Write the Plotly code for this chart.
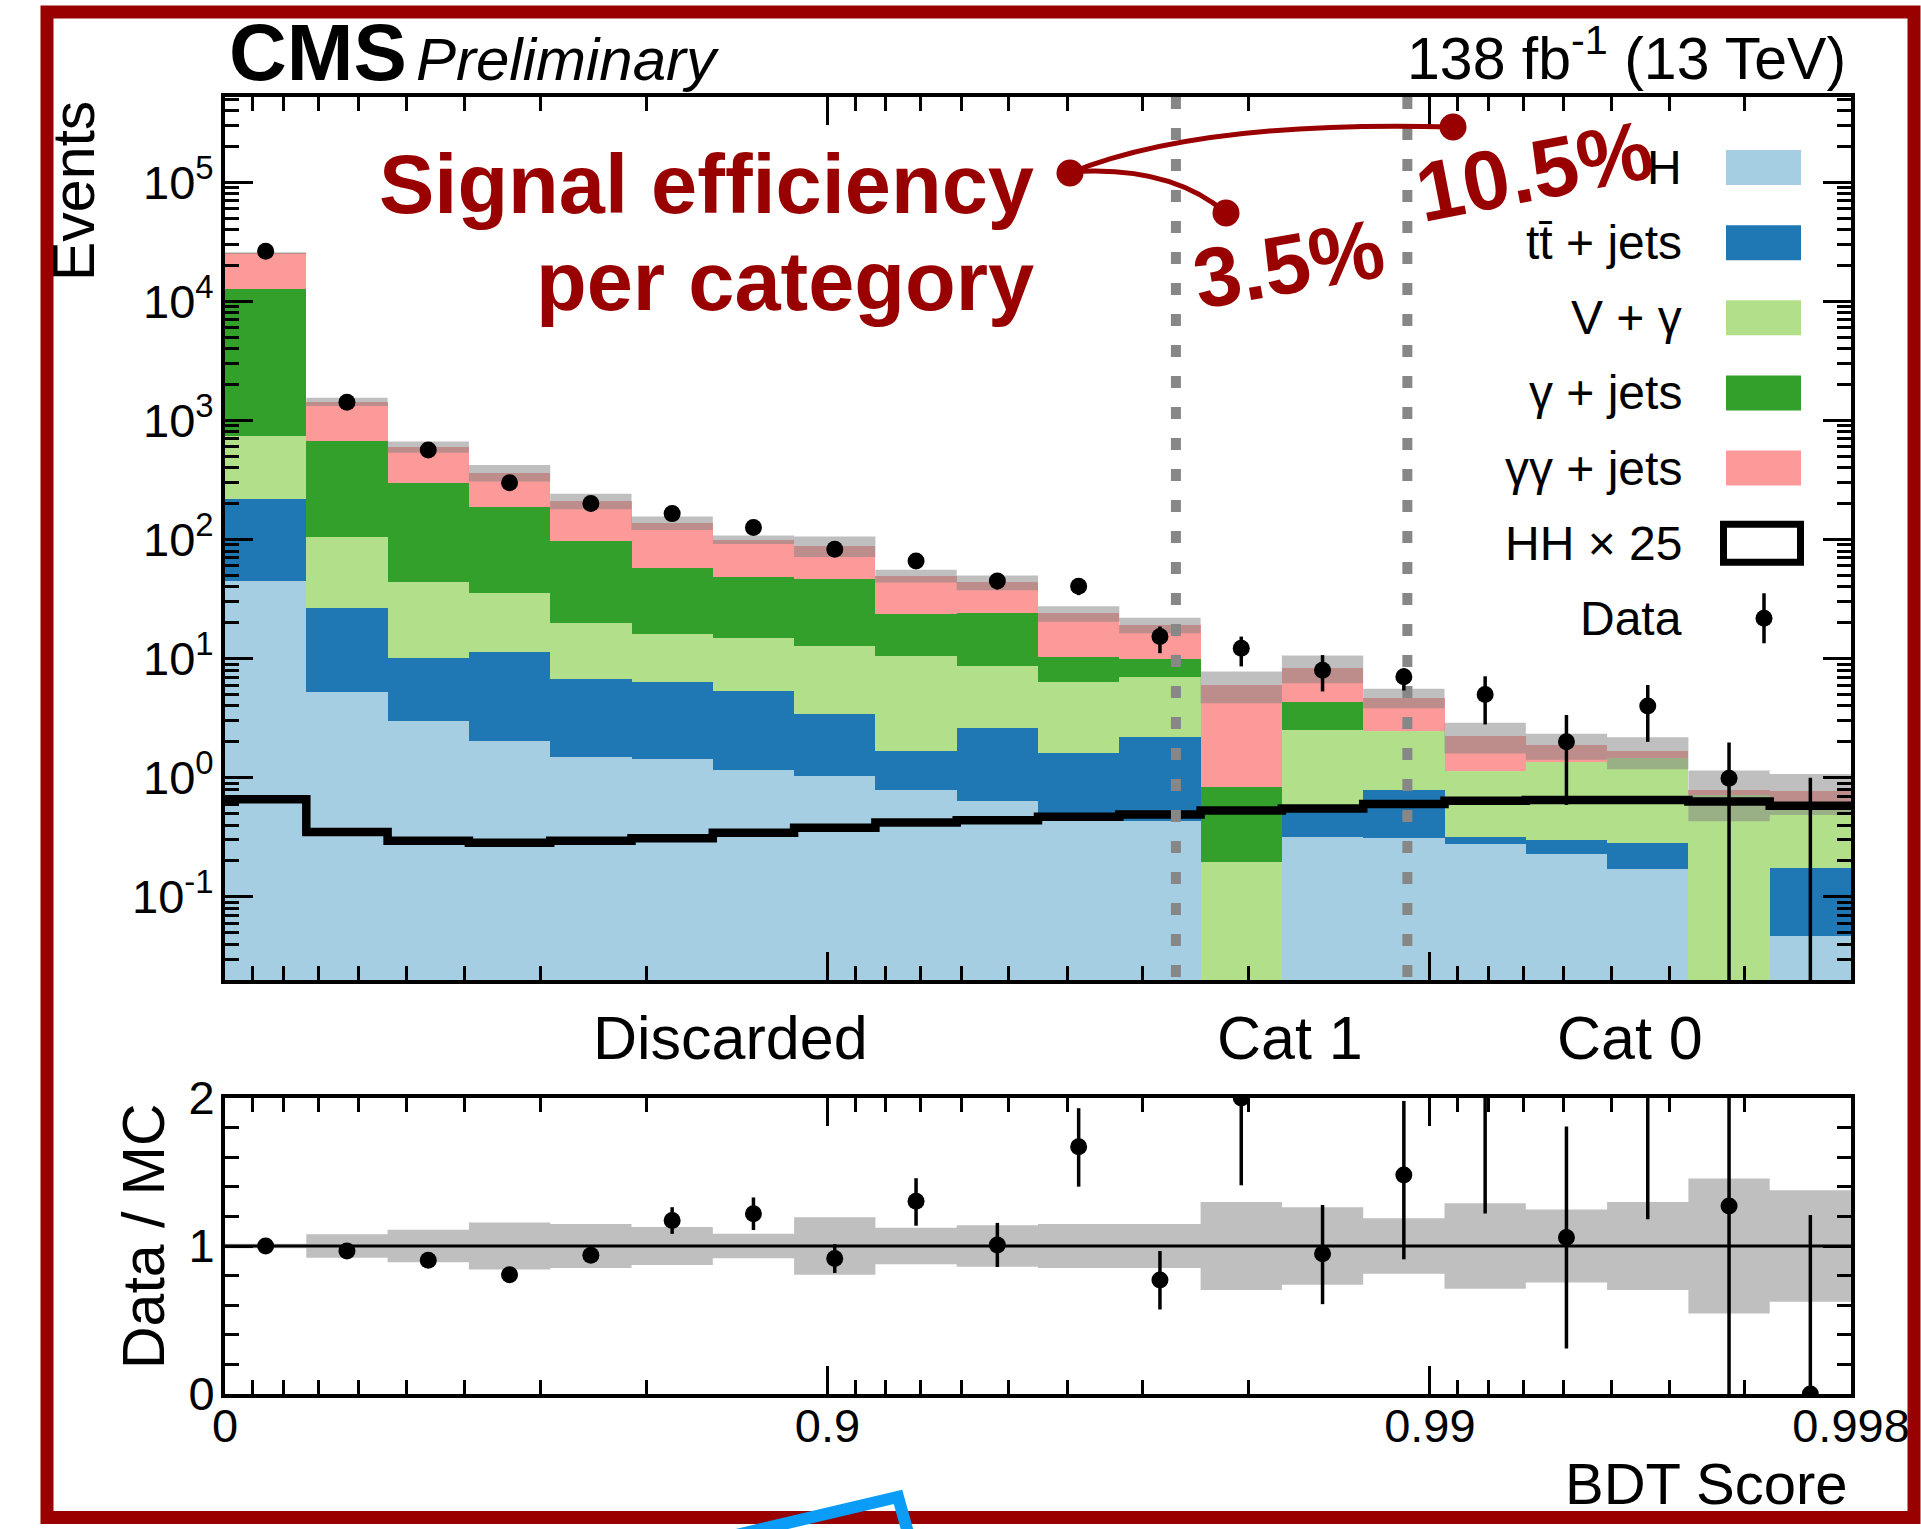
import numpy as np
import plotly.graph_objects as go

# ---------------------------------------------------------------- data
N_BINS = 20
SCORE_MAX = 0.998
Y_MIN, Y_MAX = 0.02, 5.2e5

cat_cuts = [0.9736, 0.9891]                      # BDT-score category boundaries
tick_scores = [0.0, 0.9, 0.99, 0.998]
tick_labels = ["0", "0.9", "0.99", "0.998"]
minor_scores = [0.1, 0.2, 0.3, 0.4, 0.5, 0.6, 0.7, 0.8,
                0.91, 0.92, 0.93, 0.94, 0.95, 0.96, 0.97, 0.98,
                0.991, 0.992, 0.993, 0.994, 0.995, 0.996, 0.997]

proc_names = ["H", "tt\u0304 + jets", "V + \u03b3", "\u03b3 + jets", "\u03b3\u03b3 + jets"]
proc_colors = ["#a6cee3", "#1f78b4", "#b2df8a", "#33a02c", "#fb9a99"]

h_single = [44.9, 5.21, 2.99, 2.05, 1.50, 1.43, 1.15, 1.03, 0.79, 0.64,
            0.51, 0.43, 0.0, 0.316, 0.31, 0.277, 0.229, 0.17, 0.0, 0.047]
tt_jets = [173.1, 21.6, 7.11, 9.35, 5.2, 4.87, 4.22, 2.38, 0.89, 1.96,
           1.09, 1.75, 0.0, 0.234, 0.48, 0.043, 0.071, 0.114, 0.0, 0.126]
v_gamma = [522, 78.8, 34.1, 23.9, 13.1, 9.7, 9.63, 9.39, 8.92, 6.07,
           4.76, 4.87, 0.197, 1.96, 1.68, 0.82, 1.05, 1.176, 0.72, 0.397]
gamma_jets = [12030, 565.4, 252.8, 152.7, 77.2, 41.3, 33.2, 33.8, 13.0, 15.33,
              3.94, 2.88, 0.643, 1.84, 0.0, 0.0, 0.0, 0.0, 0.0, 0.0]
diphoton_jets = [12630, 764, 304, 176, 114, 80.7, 51.8, 42.1, 26.1, 19.7,
                 13.7, 9.27, 5.16, 4.05, 2.23, 1.10, 0.53, 0.22, 0.07, 0.21]
hh_x25 = [0.66, 0.35, 0.296, 0.284, 0.296, 0.31, 0.345, 0.38, 0.42, 0.44,
          0.47, 0.49, 0.53, 0.55, 0.60, 0.64, 0.65, 0.65, 0.63, 0.58]
mc_rel_unc = [0.015, 0.08, 0.109, 0.158, 0.149, 0.129, 0.082, 0.195, 0.124, 0.14,
              0.149, 0.149, 0.298, 0.261, 0.187, 0.289, 0.246, 0.298, 0.456, 0.376]

data_obs = [26400, 1419, 564, 300, 201, 165, 126, 82.7, 66, 44.8,
            40.5, 15.3, 12.2, 8.0, 7.05, 5.0, 2.0, 4.0, 0.99, 0.0]
data_err_up = [160, 38, 24, 17, 14, 13, 11, 9, 8, 6.7,
               6.4, 3.3, 3.1, 2.7, 1.25, 2.1, 1.36, 2.0, 0.98, 1.0]
data_err_dn = [160, 38, 24, 17, 14, 13, 11, 9, 8, 6.7,
               6.4, 4.2, 3.6, 2.7, 1.65, 2.2, 1.41, 2.0, 0.99, 0.0]

ratio_vals = [1.0, 0.966, 0.904, 0.805, 0.938, 1.172, 1.218, 0.915, 1.302, 1.007,
              1.671, 0.771, 2.0, 0.947, 1.48, 2.23, 1.057, 2.38, 1.27, 0.0]
ratio_err_up = [0.01, 0.03, 0.04, 0.05, 0.053, 0.09, 0.11, 0.097, 0.156, 0.149,
                0.26, 0.195, 0.6, 0.33, 0.5, 1.0, 0.75, 1.2, 1.3, 1.21]
ratio_err_dn = [0.01, 0.03, 0.04, 0.05, 0.053, 0.09, 0.11, 0.097, 0.165, 0.149,
                0.27, 0.2, 0.59, 0.34, 0.57, 1.01, 0.75, 1.2, 1.27, 0.0]

# ---------------------------------------------------------------- helpers
def tscore(s):
    """axis is linear in -log10(1 - score)"""
    return -np.log10(1.0 - np.asarray(s, dtype=float))

T_MAX = float(tscore(SCORE_MAX))
edges = np.linspace(0.0, T_MAX, N_BINS + 1)
centers = 0.5 * (edges[:-1] + edges[1:])
bw = edges[1] - edges[0]

W, H = 1921, 1529
L, R, T, B = 225, 1851, 97, 1394
def px(x):
    return (x - L) / (R - L)
def py(y):
    return (B - y) / (B - T)

FONT = "Liberation Sans, Arial, Helvetica, sans-serif"
DARKRED = "#990000"

components = [h_single, tt_jets, v_gamma, gamma_jets, diphoton_jets]
total = np.sum(np.array(components, dtype=float), axis=0)
unc = np.array(mc_rel_unc)

fig = go.Figure()

# stacked histogram
for vals, name, col in zip(components, proc_names, proc_colors):
    fig.add_trace(go.Bar(x=centers, y=vals, width=bw, name=name,
                         marker=dict(color=col, line=dict(width=0)),
                         xaxis="x", yaxis="y", showlegend=False))

# MC uncertainty band (main)
bx, by = [], []
for i in range(N_BINS):
    lo, hi = total[i] * (1 - unc[i]), total[i] * (1 + unc[i])
    bx += [edges[i], edges[i + 1], edges[i + 1], edges[i], edges[i], None]
    by += [lo, lo, hi, hi, lo, None]
fig.add_trace(go.Scatter(x=bx, y=by, fill="toself", mode="lines",
                         fillcolor="rgba(128,128,128,0.5)", line=dict(width=0),
                         xaxis="x", yaxis="y", showlegend=False, hoverinfo="skip"))

# HH x 25 step line
fig.add_trace(go.Scatter(x=edges, y=list(hh_x25) + [hh_x25[-1]], mode="lines",
                         line=dict(color="black", width=8.5, shape="hv"),
                         xaxis="x", yaxis="y", showlegend=False))

# category boundaries
for c in cat_cuts:
    tc = float(tscore(c))
    fig.add_trace(go.Scatter(x=[tc, tc], y=[Y_MAX, Y_MIN], mode="lines",
                             line=dict(color="#878787", width=10, dash="12px,19px"),
                             xaxis="x", yaxis="y", showlegend=False))

# data (main)
fig.add_trace(go.Scatter(x=centers, y=data_obs, mode="markers",
                         marker=dict(color="black", size=17),
                         error_y=dict(type="data", symmetric=False, array=data_err_up,
                                      arrayminus=data_err_dn, color="black",
                                      thickness=3.5, width=0),
                         xaxis="x", yaxis="y", showlegend=False))
for i in range(N_BINS):
    if data_obs[i] <= 0:
        fig.add_trace(go.Scatter(x=[centers[i], centers[i]],
                                 y=[Y_MIN, data_obs[i] + data_err_up[i]], mode="lines",
                                 line=dict(color="black", width=3.5),
                                 xaxis="x", yaxis="y", showlegend=False))

# ratio panel band
rx, ry = [], []
for i in range(N_BINS):
    rx += [edges[i], edges[i + 1], edges[i + 1], edges[i], edges[i], None]
    ry += [1 - unc[i], 1 - unc[i], 1 + unc[i], 1 + unc[i], 1 - unc[i], None]
fig.add_trace(go.Scatter(x=rx, y=ry, fill="toself", mode="lines",
                         fillcolor="rgba(128,128,128,0.5)", line=dict(width=0),
                         xaxis="x2", yaxis="y2", showlegend=False, hoverinfo="skip"))
fig.add_trace(go.Scatter(x=[0, T_MAX], y=[1, 1], mode="lines",
                         line=dict(color="black", width=3),
                         xaxis="x2", yaxis="y2", showlegend=False))
fig.add_trace(go.Scatter(x=centers, y=ratio_vals, mode="markers",
                         marker=dict(color="black", size=17),
                         error_y=dict(type="data", symmetric=False, array=ratio_err_up,
                                      arrayminus=ratio_err_dn, color="black",
                                      thickness=3.5, width=0),
                         xaxis="x2", yaxis="y2", showlegend=False))

# ---------------------------------------------------------------- axes
major_t = list(tscore(tick_scores))
minor_t = list(tscore(minor_scores))
decades = list(range(-1, 6))
log_major = [10.0 ** d for d in decades]
log_text = ["10<sup>%d</sup>" % d for d in decades]
log_minor = [k * 10.0 ** d for d in range(-2, 6) for k in range(2, 10)
             if Y_MIN <= k * 10.0 ** d <= Y_MAX]

axis_common = dict(showline=True, linewidth=4, linecolor="black", mirror="allticks",
                   ticks="inside", ticklen=28, tickwidth=2.5, tickcolor="black",
                   showgrid=False, zeroline=False,
                   tickfont=dict(family=FONT, size=47, color="black"))

fig.update_layout(
    xaxis=dict(domain=[0, 1], range=[0, T_MAX], anchor="y", tickmode="array",
               tickvals=major_t, showticklabels=False,
               minor=dict(tickmode="array", tickvals=minor_t, ticks="inside",
                          ticklen=14, tickwidth=2.5, tickcolor="black", showgrid=False),
               **axis_common),
    yaxis=dict(domain=[py(980), 1], type="log", range=[np.log10(Y_MIN), np.log10(Y_MAX)],
               anchor="x", tickmode="array", tickvals=log_major, ticktext=log_text,
               ticklabelstandoff=-2,
               minor=dict(tickmode="array", tickvals=log_minor, ticks="inside",
                          ticklen=14, tickwidth=2.5, tickcolor="black", showgrid=False),
               **axis_common),
    xaxis2=dict(domain=[0, 1], range=[0, T_MAX], anchor="y2", tickmode="array",
                tickvals=major_t, ticktext=tick_labels, ticklabelstandoff=-12,
                minor=dict(tickmode="array", tickvals=minor_t, ticks="inside",
                           ticklen=14, tickwidth=2.5, tickcolor="black", showgrid=False),
                **axis_common),
    yaxis2=dict(domain=[0, py(1098)], range=[0, 2], anchor="x2", tickmode="array",
                tickvals=[0, 1, 2], ticktext=["0", "1", "2"], ticklabelstandoff=-3,
                minor=dict(tickmode="array", tickvals=[0.2, 0.4, 0.6, 0.8, 1.2, 1.4, 1.6, 1.8],
                           ticks="inside", ticklen=14, tickwidth=2.5, tickcolor="black",
                           showgrid=False),
                **axis_common),
    barmode="stack", bargap=0,
    width=W, height=H, autosize=False,
    margin=dict(l=L, r=W - R, t=T, b=H - B, pad=0),
    paper_bgcolor="white", plot_bgcolor="white",
    showlegend=False,
    font=dict(family=FONT, color="black"),
)

# ---------------------------------------------------------------- annotations
ann = []
def text(x, y, s, size, xanchor="center", yanchor="middle", color="black", angle=0):
    ann.append(dict(x=px(x), y=py(y), xref="paper", yref="paper", text=s,
                    showarrow=False, xanchor=xanchor, yanchor=yanchor,
                    textangle=angle, font=dict(family=FONT, size=size, color=color)))

text(227, 52, "<b>CMS</b>", 80, xanchor="left")
text(414, 60, "<i>Preliminary</i>", 60, xanchor="left")
text(1848, 55, "138 fb<sup>-1</sup> (13 TeV)", 59, xanchor="right")
text(74, 99, "Events", 59, yanchor="top", angle=-90)
text(144, 1236, "Data / MC", 59, angle=-90)
text(1850, 1483, "BDT Score", 58, xanchor="right")
text(730, 1038, "Discarded", 61)
text(1290, 1038, "Cat 1", 61)
text(1630, 1038, "Cat 0", 61)

# legend (manual)
shapes = []
leg_labels = proc_names + ["HH \u00d7 25", "Data"]
leg_y = [167.5 + 75.13 * k for k in range(len(leg_labels))]
for k, lab in enumerate(leg_labels):
    text(1684, leg_y[k], lab, 48, xanchor="right")
for k, col in enumerate(proc_colors):
    shapes.append(dict(type="rect", xref="paper", yref="paper",
                       x0=px(1726), x1=px(1801), y0=py(leg_y[k] - 17.5), y1=py(leg_y[k] + 17.5),
                       fillcolor=col, line=dict(width=0)))
shapes.append(dict(type="rect", xref="paper", yref="paper",
                   x0=px(1723.5), x1=px(1800.5), y0=py(leg_y[5] - 19), y1=py(leg_y[5] + 19),
                   fillcolor="rgba(0,0,0,0)", line=dict(color="black", width=7)))
shapes.append(dict(type="line", xref="paper", yref="paper",
                   x0=px(1764), x1=px(1764), y0=py(leg_y[6] - 25), y1=py(leg_y[6] + 25),
                   line=dict(color="black", width=3.5)))
shapes.append(dict(type="circle", xref="paper", yref="paper",
                   x0=px(1764 - 8.5), x1=px(1764 + 8.5), y0=py(leg_y[6] - 8.5), y1=py(leg_y[6] + 8.5),
                   fillcolor="black", line=dict(width=0)))

# signal-efficiency callout
text(1036, 184, "<b>Signal efficiency</b>", 83, xanchor="right", color=DARKRED)
text(1036, 281, "<b>per category</b>", 83, xanchor="right", color=DARKRED)
text(1288, 264, "<b>3.5%</b>", 84, color=DARKRED, angle=-10)
text(1534, 171, "<b>10.5%</b>", 84, color=DARKRED, angle=-11)

shapes.append(dict(type="path", xref="paper", yref="paper",
                   path="M %f %f Q %f %f %f %f" % (px(1070), py(173), px(1200), py(120), px(1453), py(127)),
                   line=dict(color=DARKRED, width=5)))
shapes.append(dict(type="path", xref="paper", yref="paper",
                   path="M %f %f Q %f %f %f %f" % (px(1070), py(172), px(1170), py(165), px(1226), py(213)),
                   line=dict(color=DARKRED, width=5)))
for (cx, cy) in [(1070, 173), (1226, 213), (1453, 127)]:
    shapes.append(dict(type="circle", xref="paper", yref="paper",
                       x0=px(cx - 13.5), x1=px(cx + 13.5), y0=py(cy - 13.5), y1=py(cy + 13.5),
                       fillcolor=DARKRED, line=dict(width=0)))

# slide frame and the partial blue outline at the bottom
shapes.append(dict(type="rect", xref="paper", yref="paper", layer="above",
                   x0=px(47), x1=px(1914), y0=py(1517.5), y1=py(12),
                   fillcolor="rgba(0,0,0,0)", line=dict(color=DARKRED, width=13)))
shapes.append(dict(type="path", xref="paper", yref="paper", layer="above",
                   path="M %f %f L %f %f L %f %f" % (px(715), py(1540), px(898), py(1497), px(910), py(1540)),
                   line=dict(color="#0a9cf7", width=12)))

fig.update_layout(annotations=ann, shapes=shapes)
fig.write_html("out.html")
